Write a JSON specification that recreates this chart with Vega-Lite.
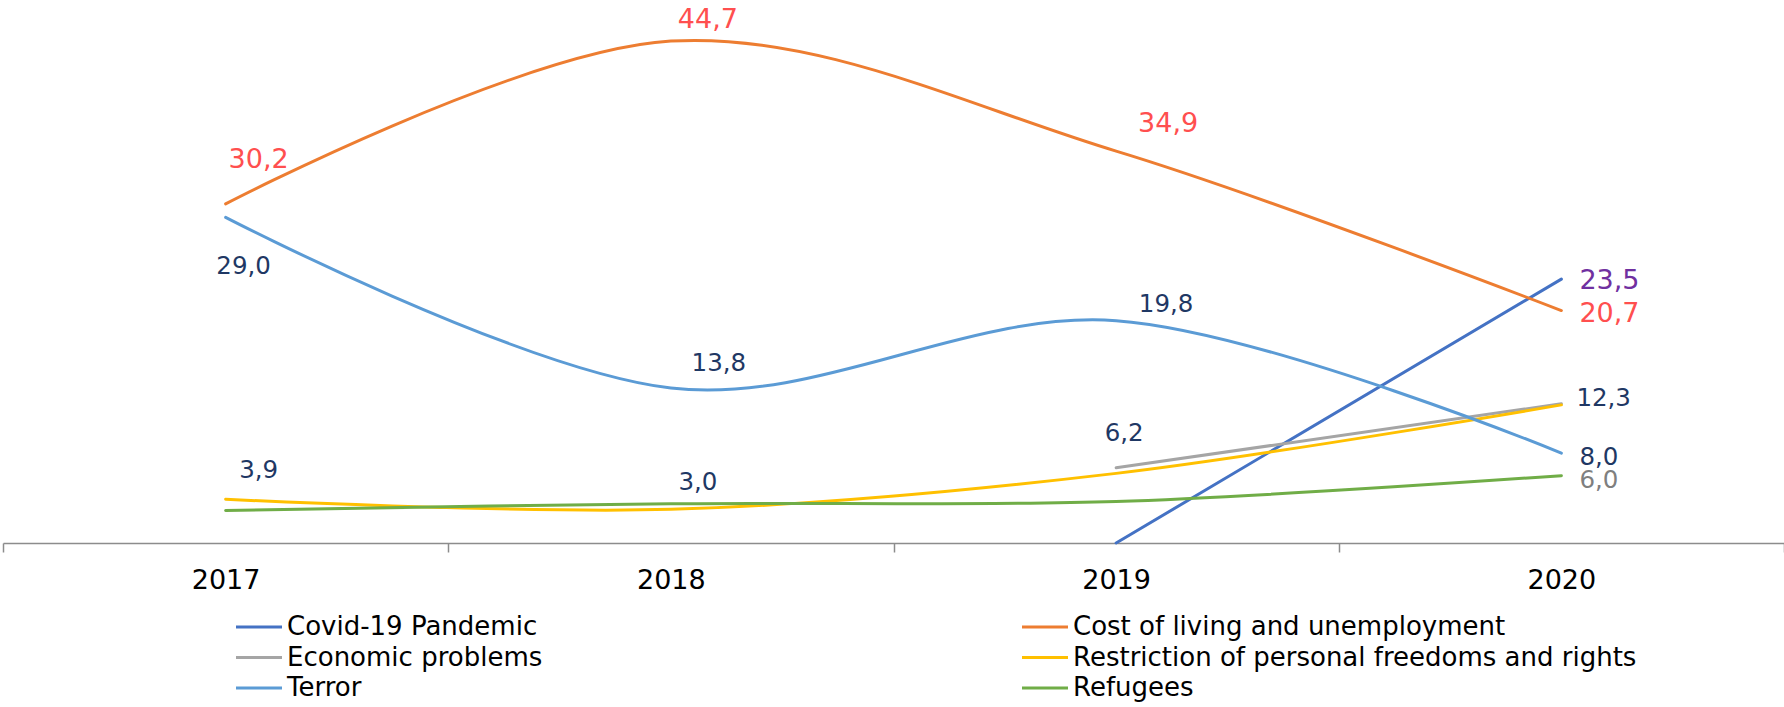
{
  "$schema": "https://vega.github.io/schema/vega-lite/v6.json",
  "width": 1781,
  "height": 543,
  "autosize": {"type": "none"},
  "padding": {"left": 3, "top": 0, "right": 0, "bottom": 164},
  "background": "white",
  "config": {"view": {"stroke": null}, "font": "DejaVu Sans"},
  "datasets": {
    "series": [
      {"series": "Covid-19 Pandemic", "year": "2019", "value": 0},
      {"series": "Covid-19 Pandemic", "year": "2020", "value": 23.5},
      {"series": "Cost of living and unemployment", "year": "2017", "value": 30.2},
      {"series": "Cost of living and unemployment", "year": "2018", "value": 44.7},
      {"series": "Cost of living and unemployment", "year": "2019", "value": 34.9},
      {"series": "Cost of living and unemployment", "year": "2020", "value": 20.7},
      {"series": "Economic problems", "year": "2019", "value": 6.7},
      {"series": "Economic problems", "year": "2020", "value": 12.4},
      {"series": "Restriction of personal freedoms and rights", "year": "2017", "value": 3.9},
      {"series": "Restriction of personal freedoms and rights", "year": "2018", "value": 3.0},
      {"series": "Restriction of personal freedoms and rights", "year": "2019", "value": 6.2},
      {"series": "Restriction of personal freedoms and rights", "year": "2020", "value": 12.3},
      {"series": "Terror", "year": "2017", "value": 29.0},
      {"series": "Terror", "year": "2018", "value": 13.8},
      {"series": "Terror", "year": "2019", "value": 19.8},
      {"series": "Terror", "year": "2020", "value": 8.0},
      {"series": "Refugees", "year": "2017", "value": 2.9},
      {"series": "Refugees", "year": "2018", "value": 3.5},
      {"series": "Refugees", "year": "2019", "value": 3.7},
      {"series": "Refugees", "year": "2020", "value": 6.0}
    ],
    "labels": [
      {"year": "2017", "value": 30.2, "label": "30,2"},
      {"year": "2018", "value": 44.7, "label": "44,7"},
      {"year": "2019", "value": 34.9, "label": "34,9"},
      {"year": "2020", "value": 20.7, "label": "20,7"},
      {"year": "2020", "value": 23.5, "label": "23,5"},
      {"year": "2017", "value": 29.0, "label": "29,0"},
      {"year": "2018", "value": 13.8, "label": "13,8"},
      {"year": "2019", "value": 19.8, "label": "19,8"},
      {"year": "2020", "value": 8.0, "label": "8,0"},
      {"year": "2020", "value": 12.3, "label": "12,3"},
      {"year": "2020", "value": 6.0, "label": "6,0"},
      {"year": "2019", "value": 6.2, "label": "6,2"},
      {"year": "2017", "value": 3.9, "label": "3,9"},
      {"year": "2018", "value": 3.0, "label": "3,0"}
    ]
  },
  "encoding": {
    "x": {
      "field": "year",
      "type": "ordinal",
      "bandPosition": 0.5,
      "scale": {"type": "band", "paddingInner": 0, "paddingOuter": 0, "domain": ["2017", "2018", "2019", "2020"]},
      "axis": {
        "title": null,
        "labelAngle": 0,
        "grid": false,
        "tickBand": "extent",
        "domainColor": "#8c8c8c",
        "domainWidth": 1.5,
        "tickColor": "#8c8c8c",
        "tickWidth": 1.5,
        "tickSize": 9,
        "labelFont": "DejaVu Sans",
        "labelFontSize": 27,
        "labelColor": "#000000",
        "labelPadding": 15
      }
    },
    "y": {
      "field": "value",
      "type": "quantitative",
      "scale": {"domain": [0, 48.36], "nice": false, "zero": true},
      "axis": null
    }
  },
  "layer": [
    {
      "data": {"name": "series"},
      "mark": {"type": "line", "interpolate": "cardinal", "strokeWidth": 3, "strokeCap": "round"},
      "encoding": {
        "color": {
          "field": "series",
          "type": "nominal",
          "scale": {
            "domain": ["Covid-19 Pandemic", "Cost of living and unemployment", "Economic problems", "Restriction of personal freedoms and rights", "Terror", "Refugees"],
            "range": ["#4472C4", "#ED7D31", "#A5A5A5", "#FFC000", "#5B9BD5", "#70AD47"]
          },
          "legend": {
            "title": null,
            "orient": "none",
            "legendX": 243,
            "legendY": 614,
            "columns": 2,
            "columnPadding": 473,
            "rowPadding": 4.5,
            "padding": 0,
            "values": ["Covid-19 Pandemic", "Economic problems", "Terror", "Cost of living and unemployment", "Restriction of personal freedoms and rights", "Refugees"],
            "symbolType": "M-2,0H2",
            "symbolSize": 529,
            "symbolStrokeWidth": 3,
            "labelFont": "DejaVu Sans",
            "labelFontSize": 26,
            "labelColor": "#000000",
            "labelOffset": 15,
            "labelLimit": 0
          }
        }
      }
    },
    {
      "data": {"name": "labels"},
      "transform": [{"filter": "datum.label == '30,2'"}],
      "mark": {"type": "text", "align": "center", "baseline": "middle", "dx": 33, "dy": -44, "fontSize": 27, "color": "#FF4F4F"},
      "encoding": {"text": {"field": "label"}}
    },
    {
      "data": {"name": "labels"},
      "transform": [{"filter": "datum.label == '44,7'"}],
      "mark": {"type": "text", "align": "center", "baseline": "middle", "dx": 37, "dy": -21, "fontSize": 27, "color": "#FF4F4F"},
      "encoding": {"text": {"field": "label"}}
    },
    {
      "data": {"name": "labels"},
      "transform": [{"filter": "datum.label == '34,9'"}],
      "mark": {"type": "text", "align": "center", "baseline": "middle", "dx": 52, "dy": -27, "fontSize": 27, "color": "#FF4F4F"},
      "encoding": {"text": {"field": "label"}}
    },
    {
      "data": {"name": "labels"},
      "transform": [{"filter": "datum.label == '20,7'"}],
      "mark": {"type": "text", "align": "left", "baseline": "middle", "dx": 18, "dy": 3, "fontSize": 27, "color": "#FF4F4F"},
      "encoding": {"text": {"field": "label"}}
    },
    {
      "data": {"name": "labels"},
      "transform": [{"filter": "datum.label == '23,5'"}],
      "mark": {"type": "text", "align": "left", "baseline": "middle", "dx": 18, "dy": 2, "fontSize": 27, "color": "#7030A0"},
      "encoding": {"text": {"field": "label"}}
    },
    {
      "data": {"name": "labels"},
      "transform": [{"filter": "datum.label == '29,0'"}],
      "mark": {"type": "text", "align": "center", "baseline": "middle", "dx": 18, "dy": 50, "fontSize": 24.5, "color": "#1F3864"},
      "encoding": {"text": {"field": "label"}}
    },
    {
      "data": {"name": "labels"},
      "transform": [{"filter": "datum.label == '13,8'"}],
      "mark": {"type": "text", "align": "center", "baseline": "middle", "dx": 48, "dy": -24, "fontSize": 24.5, "color": "#1F3864"},
      "encoding": {"text": {"field": "label"}}
    },
    {
      "data": {"name": "labels"},
      "transform": [{"filter": "datum.label == '19,8'"}],
      "mark": {"type": "text", "align": "center", "baseline": "middle", "dx": 50, "dy": -16, "fontSize": 24.5, "color": "#1F3864"},
      "encoding": {"text": {"field": "label"}}
    },
    {
      "data": {"name": "labels"},
      "transform": [{"filter": "datum.label == '8,0'"}],
      "mark": {"type": "text", "align": "left", "baseline": "middle", "dx": 18, "dy": 5, "fontSize": 24.5, "color": "#1F3864"},
      "encoding": {"text": {"field": "label"}}
    },
    {
      "data": {"name": "labels"},
      "transform": [{"filter": "datum.label == '12,3'"}],
      "mark": {"type": "text", "align": "left", "baseline": "middle", "dx": 15, "dy": -5.5, "fontSize": 24.5, "color": "#1F3864"},
      "encoding": {"text": {"field": "label"}}
    },
    {
      "data": {"name": "labels"},
      "transform": [{"filter": "datum.label == '6,0'"}],
      "mark": {"type": "text", "align": "left", "baseline": "middle", "dx": 18, "dy": 5, "fontSize": 24.5, "color": "#7F7F7F"},
      "encoding": {"text": {"field": "label"}}
    },
    {
      "data": {"name": "labels"},
      "transform": [{"filter": "datum.label == '6,2'"}],
      "mark": {"type": "text", "align": "center", "baseline": "middle", "dx": 8, "dy": -39, "fontSize": 24.5, "color": "#1F3864"},
      "encoding": {"text": {"field": "label"}}
    },
    {
      "data": {"name": "labels"},
      "transform": [{"filter": "datum.label == '3,9'"}],
      "mark": {"type": "text", "align": "center", "baseline": "middle", "dx": 33, "dy": -28, "fontSize": 24.5, "color": "#1F3864"},
      "encoding": {"text": {"field": "label"}}
    },
    {
      "data": {"name": "labels"},
      "transform": [{"filter": "datum.label == '3,0'"}],
      "mark": {"type": "text", "align": "center", "baseline": "middle", "dx": 27, "dy": -26, "fontSize": 24.5, "color": "#1F3864"},
      "encoding": {"text": {"field": "label"}}
    }
  ]
}
